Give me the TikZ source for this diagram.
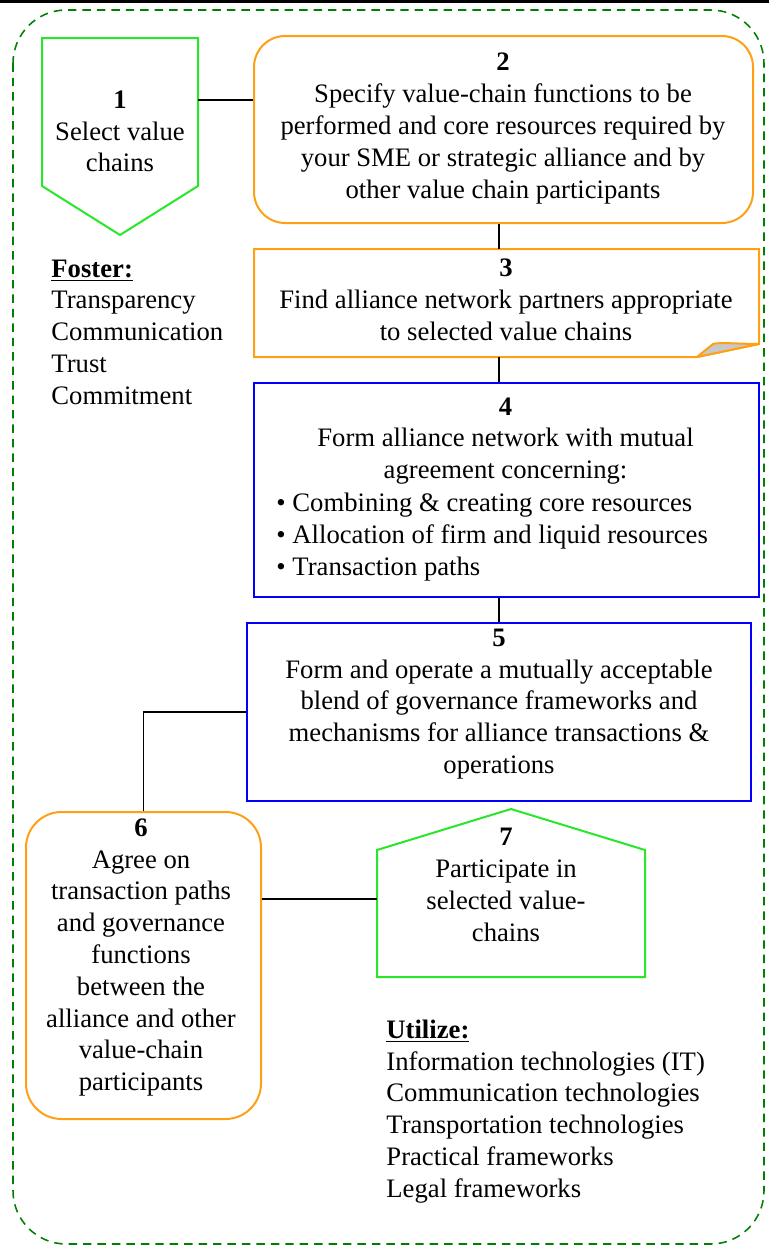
\documentclass[tikz,border=0pt]{standalone}
\usepackage{fontspec}
\setmainfont{Liberation Serif}
\usetikzlibrary{calc,fit}
\definecolor{boxorange}{RGB}{255,160,20}
\definecolor{boxgreen}{RGB}{40,230,40}
\definecolor{boxblue}{RGB}{0,0,255}
\definecolor{framegreen}{RGB}{0,128,0}
\definecolor{foldgray}{RGB}{200,200,200}
\begin{document}
\begin{tikzpicture}[x=0.45pt,y=-0.45pt,
  txt/.style={inner sep=0pt,font={\fontsize{12}{14.3}\selectfont}},
  ctxt/.style={txt,align=center},
  ltxt/.style={txt,align=left,anchor=west},
  shapebox/.style={inner sep=0pt,line width=0.9pt},
  orangebox/.style={shapebox,draw=boxorange},
  bluebox/.style={shapebox,draw=boxblue},
  link/.style={draw=black,line width=0.7pt}]
\useasboundingbox (0,0) rectangle (769,1247);

% top rule and dashed outer frame
\fill[black] (0,0) rectangle (769,3);
\draw[framegreen,line width=0.7pt,dash pattern=on 3.8pt off 2.7pt,rounded corners=24pt]
  (13,10) rectangle (764,1244);

% step boxes
\node[shapebox,fit={(43,39) (197,234)}] (n1) {};
\draw[boxgreen,line width=0.9pt,line join=miter]
  (n1.north west) -- (n1.north east) -- ($(n1.south east)+(0,-49)$)
  -- (n1.south) -- ($(n1.south west)+(0,-49)$) -- cycle;

\node[orangebox,rounded corners=14pt,fit={(254,36) (753,223)}] (n2) {};

\node[shapebox,fit={(255,250) (758,356)}] (n3) {};
\draw[boxorange,line width=0.9pt,line join=miter]
  (n3.north west) -- (n3.north east) -- ($(n3.south east)+(0,-13)$)
  -- ($(n3.south east)+(-62,0)$) -- (n3.south west) -- cycle;
\filldraw[fill=foldgray,draw=boxorange,line width=0.9pt,line join=round]
  ($(n3.south east)+(-62,0)$) -- ($(n3.south east)+(-46,-13)$)
  .. controls ($(n3.south east)+(-40,-15)$) and ($(n3.south east)+(-20,-13)$) .. ($(n3.south east)+(0,-13)$)
  -- cycle;

\node[bluebox,fit={(254,383) (759,597)}] (n4) {};
\node[bluebox,fit={(247,623) (751,801)}] (n5) {};
\node[orangebox,rounded corners=16pt,fit={(26,812) (261,1119)}] (n6) {};

\node[shapebox,fit={(378,810) (644,976)}] (n7) {};
\draw[boxgreen,line width=0.9pt,line join=miter]
  (n7.south west) -- (n7.south east) -- ($(n7.north east)+(0,41)$)
  -- (n7.north) -- ($(n7.north west)+(0,41)$) -- cycle;

% texts
\node[ctxt] (t1) at (120,131.5) {\textbf{1}\\Select value\\chains};
\node[ctxt] (t2) at (503,128.5) {\textbf{2}\\Specify value-chain functions to be\\performed and core resources required by\\your SME or strategic alliance and by\\other value chain participants};
\node[ctxt] (t3) at (506,300) {\textbf{3}\\Find alliance network partners appropriate\\to selected value chains};
\node[ctxt] (t4) at (505.5,441) {\textbf{4}\\Form alliance network with mutual\\agreement concerning:};
\node[ltxt] (t4b) at (276,537) {• Combining \& creating core resources\\• Allocation of firm and liquid resources\\• Transaction paths};
\node[ctxt] (t5) at (499,704) {\textbf{5}\\Form and operate a mutually acceptable\\blend of governance frameworks and\\mechanisms for alliance transactions \&\\operations};
\node[ctxt] (t6) at (141,957.5) {\textbf{6}\\Agree on\\transaction paths\\and governance\\functions\\between the\\alliance and other\\value-chain\\participants};
\node[ctxt] (t7) at (506,885) {\textbf{7}\\Participate in\\selected value-\\chains};

\node[ltxt] (foster) at (51,332) {\textbf{\underline{Foster:}}\\Transparency\\Communication\\Trust\\Commitment};
\node[ltxt] (utilize) at (386,1111.5) {\textbf{\underline{Utilize:}}\\Information technologies (IT)\\Communication technologies\\Transportation technologies\\Practical frameworks\\Legal frameworks};

% connectors
\coordinate (y12) at (0,100);
\coordinate (spine) at (499,0);
\coordinate (y56) at (0,712);
\coordinate (y67) at (0,899);
\draw[link] (n1.east |- y12) -- (n2.west |- y12);
\draw[link] (n2.south -| spine) -- (n3.north -| spine);
\draw[link] (n3.south -| spine) -- (n4.north -| spine);
\draw[link] (n4.south -| spine) -- (n5.north -| spine);
\draw[link] (n5.west |- y56) -| (n6.north);
\draw[link] (n6.east |- y67) -- (n7.west |- y67);
\end{tikzpicture}
\end{document}
